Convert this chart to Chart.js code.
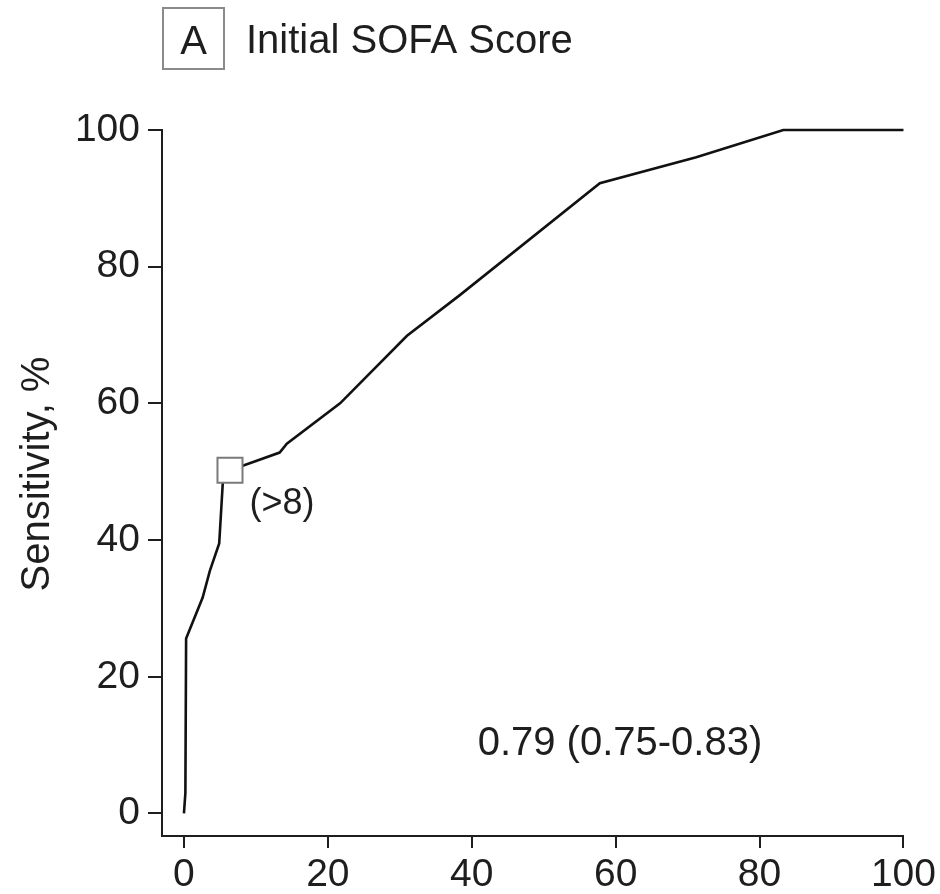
<!DOCTYPE html>
<html>
<head>
<meta charset="utf-8">
<script src="https://cdn.jsdelivr.net/npm/chart.js@4.4.1/dist/chart.umd.min.js"></script>
<style>
  html, body { margin: 0; padding: 0; background: #fff; }
  #wrap { width: 940px; height: 894px; position: relative; }
</style>
</head>
<body>
<div id="wrap"><canvas id="roc"></canvas></div>
<script>
const FONT = '"Liberation Sans", Arial, Helvetica, sans-serif';
const INK = "#1e1e1e";

// ROC curve (1 - specificity %, sensitivity %)
const rocX = [0, 0.2, 0.3, 2.6, 3.6, 4.9, 5.4, 6.4, 13.3, 14.3, 21.7, 31, 38.3, 57.8, 71.2, 83.3, 100];
const rocY = [0, 3, 25.6, 31.6, 35.5, 39.5, 48.4, 50.2, 52.8, 54.1, 60, 69.9, 75.8, 92.2, 96, 100, 100];

// optimal cutoff marker
const cutoffX = [6.4];
const cutoffY = [50.2];
const cutoffLabel = "(>8)";

const xTicks = [0, 20, 40, 60, 80, 100];
const yTicks = [0, 20, 40, 60, 80, 100];

const panelLetter = "A";
const panelTitle = "Initial SOFA Score";
const yTitle = "Sensitivity, %";
const aucText = "0.79 (0.75-0.83)";

const textPlugin = {
  id: "texts",
  afterDraw(chart) {
    const { ctx, scales } = chart;
    const x = scales.x;
    const y = scales.y;
    ctx.save();
    ctx.fillStyle = INK;

    // panel letter box + title
    ctx.strokeStyle = "#8a8a8a";
    ctx.lineWidth = 2;
    ctx.strokeRect(163, 8, 61, 61);
    ctx.font = `40px ${FONT}`;
    ctx.textAlign = "center";
    ctx.textBaseline = "alphabetic";
    ctx.fillText(panelLetter, 193.5, 54);
    ctx.textAlign = "left";
    ctx.fillText(panelTitle, 246, 53);

    // y axis title
    ctx.save();
    ctx.translate(38, 474);
    ctx.rotate(-Math.PI / 2);
    ctx.textAlign = "center";
    ctx.textBaseline = "middle";
    ctx.font = `40px ${FONT}`;
    ctx.fillText(yTitle, 0, 0);
    ctx.restore();

    // cutoff label, below-right of the marker
    ctx.font = `36px ${FONT}`;
    ctx.textAlign = "center";
    ctx.textBaseline = "middle";
    ctx.fillText(cutoffLabel, x.getPixelForValue(cutoffX[0]) + 52, y.getPixelForValue(cutoffY[0]) + 34);

    // AUC
    ctx.font = `40px ${FONT}`;
    ctx.fillText(aucText, x.getPixelForValue(60.6), y.getPixelForValue(10.2));
    ctx.restore();
  },
};

const axisCommon = (tickLen, pad) => ({
  type: "linear",
  grid: {
    display: true,
    drawOnChartArea: false,
    drawTicks: true,
    tickLength: tickLen,
    color: INK,
    lineWidth: 2,
  },
  border: { display: true, color: INK, width: 2 },
  ticks: {
    color: INK,
    padding: pad,
    font: { family: FONT, size: 39 },
    maxRotation: 0,
  },
});

const xAxis = axisCommon(12, 4);
xAxis.min = -3.05;
xAxis.max = 100;
xAxis.afterBuildTicks = (s) => { s.ticks = xTicks.map((v) => ({ value: v })); };
xAxis.afterFit = (s) => { s.height = 58; };

const yAxis = axisCommon(14, 8);
yAxis.min = -3.3;
yAxis.max = 100;
yAxis.afterBuildTicks = (s) => { s.ticks = yTicks.map((v) => ({ value: v })); };
yAxis.afterFit = (s) => { s.width = 162; };

new Chart(document.getElementById("roc"), {
  type: "line",
  data: {
    datasets: [
      {
        label: "Cutoff",
        data: cutoffX.map((v, i) => ({ x: v, y: cutoffY[i] })),
        showLine: false,
        pointStyle: "rect",
        pointRadius: 17.7,
        pointBackgroundColor: "#fff",
        pointBorderColor: "#7a7a7a",
        pointBorderWidth: 2,
        order: 0,
        clip: false,
      },
      {
        label: "ROC",
        data: rocX.map((v, i) => ({ x: v, y: rocY[i] })),
        borderColor: "#111",
        borderWidth: 2.6,
        tension: 0,
        pointRadius: 0,
        fill: false,
        order: 1,
        clip: false,
      },
    ],
  },
  options: {
    responsive: true,
    maintainAspectRatio: false,
    animation: false,
    layout: { padding: { top: 130, right: 36, bottom: 0, left: 0 } },
    plugins: {
      legend: { display: false },
      tooltip: { enabled: false },
    },
    scales: { x: xAxis, y: yAxis },
  },
  plugins: [textPlugin],
});
</script>
</body>
</html>
